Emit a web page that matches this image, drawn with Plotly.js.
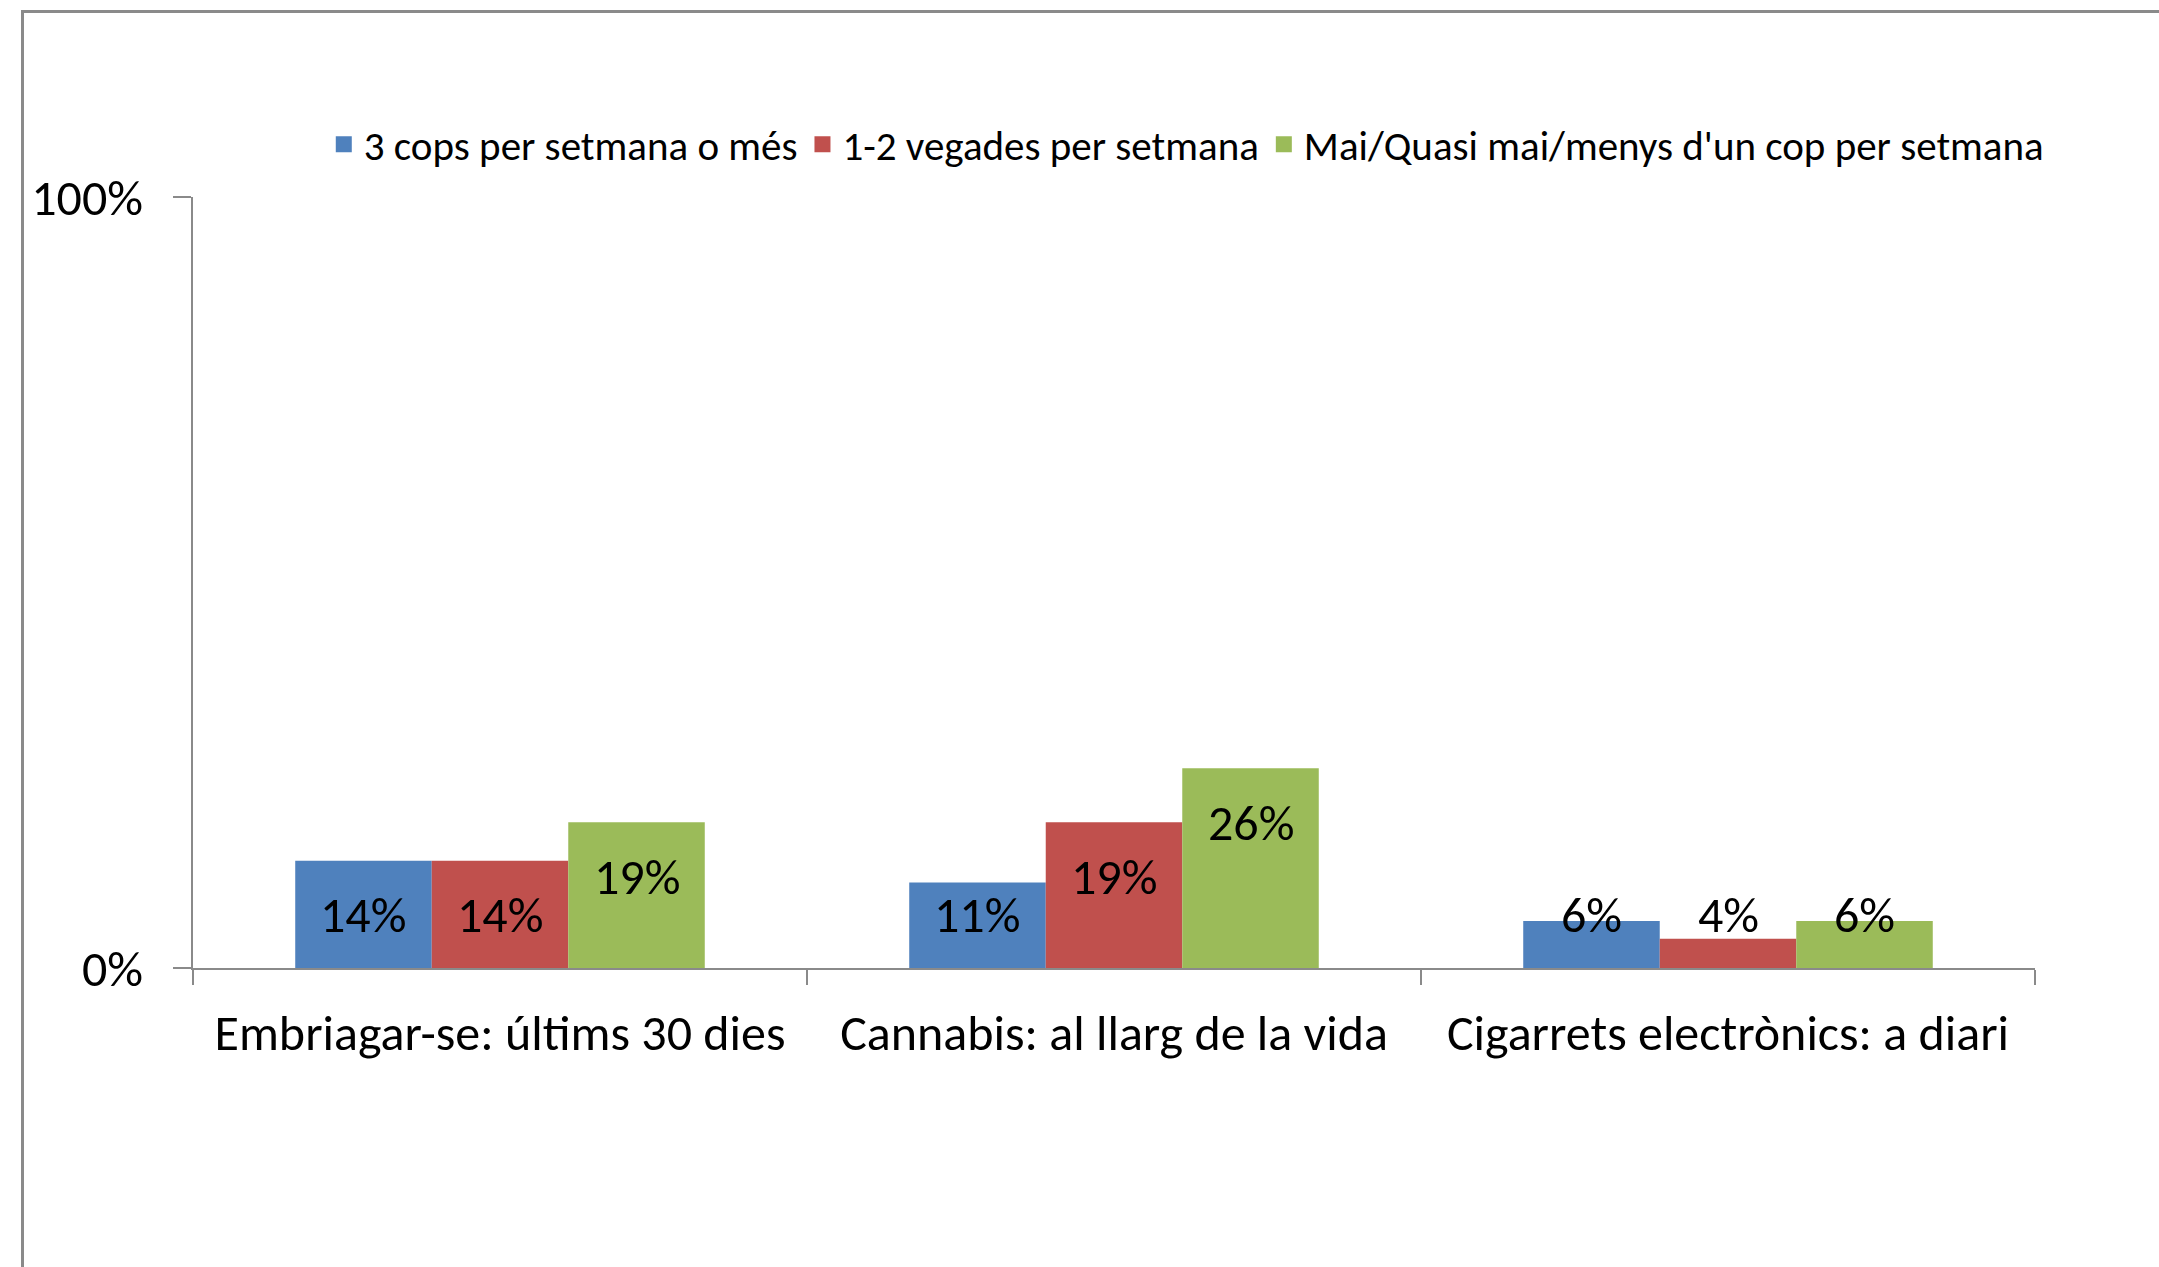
<!DOCTYPE html>
<html>
<head>
<meta charset="utf-8">
<script src="https://cdn.plot.ly/plotly-3.0.1.min.js"></script>
<style>
  html, body { margin: 0; padding: 0; background: #fff; }
  #wrap { position: relative; width: 2159px; height: 1267px; overflow: hidden; }
  #chart { width: 2159px; height: 1267px; }
  #frame { position: absolute; left: 21px; top: 10px; width: 3000px; height: 3000px;
           border-left: 3px solid #8a8a8a; border-top: 3px solid #8a8a8a; pointer-events: none; }
</style>
</head>
<body>
<div id="wrap"><div id="chart"></div><div id="frame"></div></div>
<script>
const categories = ["Embriagar-se: últims 30 dies", "Cannabis: al llarg de la vida", "Cigarrets electrònics: a diari"];
const seriesNames = ["3 cops per setmana o més", "1-2 vegades per setmana", "Mai/Quasi mai/menys d'un cop per setmana"];
const blueValues = [0.139, 0.111, 0.061];
const redValues = [0.139, 0.189, 0.038];
const greenValues = [0.189, 0.259, 0.061];
const seriesColors = ["#4F81BD", "#C0504D", "#9BBB59"];

const FONT = "Carlito, Lato, 'Open Sans', sans-serif";
const allSeries = [blueValues, redValues, greenValues];
const bargap = 0.333;
const barW = (1 - bargap) / allSeries.length;

const traces = [];
allSeries.forEach((vals, s) => {
  traces.push({
    type: "bar",
    name: seriesNames[s],
    legendgroup: "g" + s,
    showlegend: false,
    x: categories,
    y: vals,
    marker: { color: seriesColors[s], line: { width: 0 } },
    hoverinfo: "skip"
  });
});
// legend entries (square swatches), no visible data
allSeries.forEach((vals, s) => {
  traces.push({
    type: "scatter",
    mode: "markers",
    name: seriesNames[s],
    legendgroup: "g" + s,
    showlegend: true,
    x: [null], y: [null],
    marker: { symbol: "square", size: 16, color: seriesColors[s] },
    hoverinfo: "skip"
  });
});

const annotations = [];
allSeries.forEach((vals, s) => {
  vals.forEach((v, i) => {
    annotations.push({
      x: i + (s - (allSeries.length - 1) / 2) * barW,
      y: Math.max(v - 0.07, 0.07),
      xref: "x", yref: "y",
      text: Math.round(v * 100) + "%",
      showarrow: false,
      xanchor: "center", yanchor: "middle",
      font: { family: FONT, size: 50, color: "#000" }
    });
  });
});

const layout = {
  width: 2159, height: 1267,
  margin: { l: 193, r: 124, t: 197, b: 299 },
  paper_bgcolor: "#fff", plot_bgcolor: "#fff",
  barmode: "group", bargap: bargap, bargroupgap: 0,
  showlegend: true,
  legend: {
    orientation: "h", x: 0.071, xanchor: "left", y: 1.068, yanchor: "middle",
    font: { family: FONT, size: 41, color: "#000" },
    itemsizing: "trace", traceorder: "normal", tracegroupgap: 0
  },
  xaxis: {
    type: "category",
    range: [-0.5, 2.5],
    showline: true, linecolor: "#8a8a8a", linewidth: 2,
    ticks: "outside", tickson: "boundaries", ticklen: 15, tickcolor: "#8a8a8a", tickwidth: 2,
    tickfont: { family: FONT, size: 50, color: "#000" },
    ticklabelstandoff: 20,
    showgrid: false, zeroline: false, fixedrange: true
  },
  yaxis: {
    range: [0, 1], dtick: 1, tick0: 0, tickformat: ".0%",
    showline: true, linecolor: "#8a8a8a", linewidth: 2,
    ticks: "outside", ticklen: 18, tickcolor: "#8a8a8a", tickwidth: 2,
    tickfont: { family: FONT, size: 50, color: "#000" },
    ticklabelstandoff: 20,
    showgrid: true, gridcolor: "#8a8a8a", gridwidth: 2,
    zeroline: false, fixedrange: true
  },
  annotations: annotations
};

Plotly.newPlot("chart", traces, layout, { displayModeBar: false, staticPlot: true });
</script>
</body>
</html>
